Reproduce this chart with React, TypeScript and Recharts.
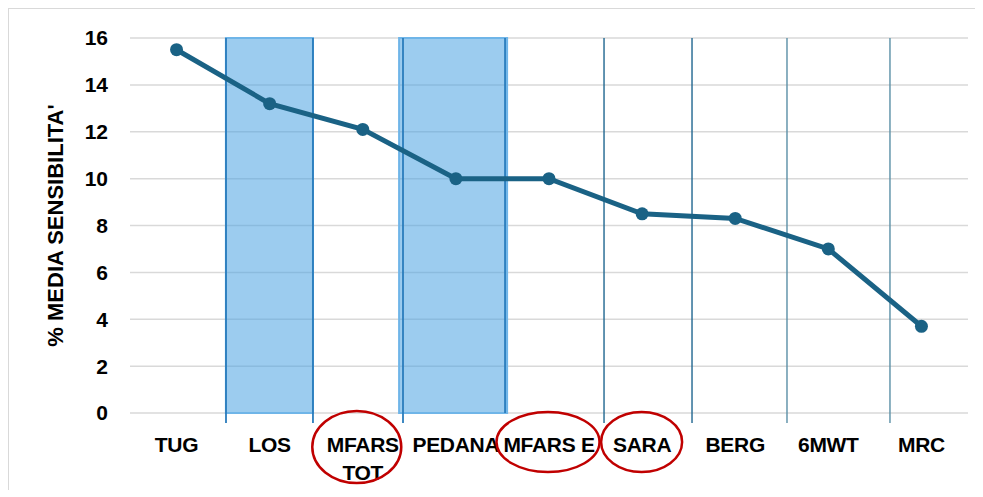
import { LineChart, Line, XAxis, YAxis, CartesianGrid, ReferenceArea, ReferenceLine } from "recharts";

// test names on the x axis ("\n" = second line of the label)
const categories = ["TUG", "LOS", "MFARS\nTOT", "PEDANA", "MFARS E", "SARA", "BERG", "6MWT", "MRC"];
// % media sensibilita' per test
const sensitivity = [15.5, 13.2, 12.1, 10.0, 10.0, 8.5, 8.3, 7.0, 3.7];
const yTicks = [0, 2, 4, 6, 8, 10, 12, 14, 16];

// hand-drawn annotations, in category-index units (0 = TUG, 8 = MRC)
const shadedBands = [
  { from: 0.53, to: 1.465 },
  { from: 2.39, to: 3.55 },
];
const bandEdges = [0.531, 1.465, 2.432, 3.528];
const separators = [4.591, 5.536, 6.556, 7.662];
// labels circled in red
const circled = ["MFARS\nTOT", "MFARS E", "SARA"];

const data = categories.map((name, i) => ({ name, idx: i, value: sensitivity[i] }));

const FONT = "'Liberation Sans', Arial, sans-serif";
const LINE_COLOR = "#1a6285";
// half a category step, so points sit in the middle of each slot
const HALF_STEP = 838 / categories.length / 2;

const ellipseFor: Record<string, { dx: number; dy: number; rx: number; ry: number }> = {
  "MFARS\nTOT": { dx: -6, dy: 26, rx: 44.5, ry: 36 },
  "MFARS E": { dx: -1, dy: 21, rx: 51.5, ry: 30 },
  SARA: { dx: -0.5, dy: 21, rx: 40.5, ry: 30 },
};

const XTick = (props: any) => {
  const { x, y, payload } = props;
  const lines = String(payload.value).split("\n");
  const e = circled.includes(payload.value) ? ellipseFor[payload.value] : null;
  return (
    <g>
      {lines.map((t, i) => (
        <text
          key={i}
          x={x}
          y={y + 31 + i * 28}
          textAnchor="middle"
          fontFamily={FONT}
          fontWeight="bold"
          fontSize={21}
          letterSpacing={-0.3}
          fill="#000"
        >
          {t}
        </text>
      ))}
      {e && (
        <ellipse cx={x + e.dx} cy={y + e.dy} rx={e.rx} ry={e.ry} fill="none" stroke="#c00000" strokeWidth={2.5} />
      )}
    </g>
  );
};

const YLabel = (props: any) => {
  const vb = props.viewBox;
  const cx = vb.x + 47;
  const cy = vb.y + vb.height / 2;
  return (
    <text
      x={cx}
      y={cy}
      transform={`rotate(-90 ${cx} ${cy})`}
      textAnchor="middle"
      dominantBaseline="central"
      fontFamily={FONT}
      fontWeight="bold"
      fontSize={22}
      fill="#000"
    >
      % MEDIA SENSIBILITA'
    </text>
  );
};

export default function App() {
  return (
    <div style={{ position: "relative", width: 975, height: 482 }}>
      <LineChart width={975} height={482} data={data} margin={{ top: 30, right: 15, left: 0, bottom: 17 }}>
        <CartesianGrid vertical={false} stroke="#d9d9d9" strokeWidth={1.5} />
        <XAxis
          dataKey="name"
          axisLine={false}
          tickLine={false}
          height={60}
          interval={0}
          padding={{ left: HALF_STEP, right: HALF_STEP }}
          tick={<XTick />}
        />
        <XAxis
          xAxisId="ann"
          dataKey="idx"
          type="number"
          domain={["dataMin", "dataMax"]}
          padding={{ left: HALF_STEP, right: HALF_STEP }}
          hide
          allowDataOverflow
        />
        <YAxis
          domain={[0, 16]}
          ticks={yTicks}
          width={122}
          axisLine={false}
          tickLine={false}
          tickMargin={16}
          tick={{ fontFamily: FONT, fontWeight: "bold", fontSize: 21, fill: "#000" }}
          label={<YLabel />}
        />
        {shadedBands.map((b, i) => (
          <ReferenceArea
            key={`band-${i}`}
            xAxisId="ann"
            x1={b.from}
            x2={b.to}
            y1={0}
            y2={16}
            fill="#4aa2e2"
            fillOpacity={0.55}
            stroke="#6fb5e8"
            strokeWidth={2}
            ifOverflow="visible"
          />
        ))}
        {bandEdges.map((p, i) => (
          <ReferenceLine
            key={`edge-${i}`}
            xAxisId="ann"
            segment={[
              { x: p, y: i === 3 ? 0 : -0.43 },
              { x: p, y: 16 },
            ]}
            stroke="#2a7cbc"
            strokeWidth={1.8}
            ifOverflow="visible"
          />
        ))}
        {separators.map((p, i) => (
          <ReferenceLine
            key={`sep-${i}`}
            xAxisId="ann"
            segment={[
              { x: p, y: -0.43 },
              { x: p, y: 16 },
            ]}
            stroke={i < 2 ? "#1f6690" : "#5a8fa6"}
            strokeWidth={1.4}
            ifOverflow="visible"
          />
        ))}
        <Line
          type="linear"
          dataKey="value"
          stroke={LINE_COLOR}
          strokeWidth={5}
          dot={{ r: 6.5, fill: LINE_COLOR, stroke: LINE_COLOR, strokeWidth: 0 }}
          activeDot={false}
          isAnimationActive={false}
        />
      </LineChart>
      <div
        style={{
          position: "absolute",
          left: 0,
          top: 0,
          width: 975,
          height: 482,
          borderTop: "1.5px solid #d9d9d9",
          borderLeft: "1.5px solid #d9d9d9",
          boxSizing: "border-box",
          pointerEvents: "none",
        }}
      />
    </div>
  );
}
